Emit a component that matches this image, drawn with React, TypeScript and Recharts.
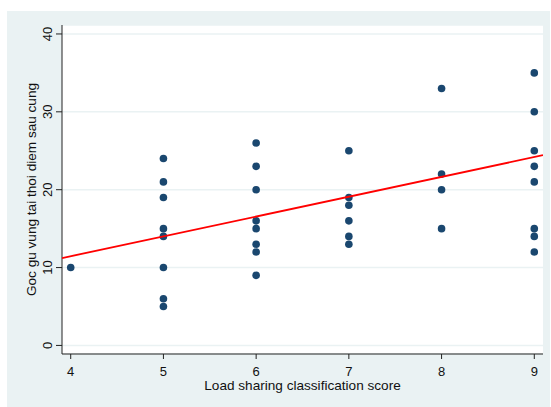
import React from "react";
import {
  ScatterChart,
  Scatter,
  XAxis,
  YAxis,
  CartesianGrid,
  Label,
} from "recharts";

// load sharing score (x) and angle at final follow-up (y)
const score = [
  4,
  5, 5, 5, 5, 5, 5, 5, 5,
  6, 6, 6, 6, 6, 6, 6, 6,
  7, 7, 7, 7, 7, 7,
  8, 8, 8, 8,
  9, 9, 9, 9, 9, 9, 9, 9,
];
const angle = [
  10,
  24, 21, 19, 15, 14, 10, 6, 5,
  26, 23, 20, 16, 15, 13, 12, 9,
  25, 19, 18, 16, 14, 13,
  33, 22, 20, 15,
  35, 30, 25, 23, 21, 15, 14, 12,
];

// fitted values at the ends of the x range
const fitScore = [3.906, 9.094];
const fitAngle = [11.22, 24.43];

const xTicks = [4, 5, 6, 7, 8, 9];
const yTicks = [0, 10, 20, 30, 40];

const points = score.map((s, i) => ({ x: s, y: angle[i] }));
const fitLine = fitScore.map((s, i) => ({ x: s, y: fitAngle[i] }));

const FONT = "'Liberation Sans', Arial, sans-serif";
const BG = "#EAF2F3";

const Dot = (props: any) => (
  <circle cx={props.cx} cy={props.cy} r={3.8} fill="#1A476F" />
);

const XTick = (props: any) => (
  <text
    x={props.x}
    y={props.y + 10.5}
    textAnchor="middle"
    dominantBaseline="central"
    fontFamily={FONT}
    fontSize={13}
    fill="#111"
  >
    {props.payload.value}
  </text>
);

const YTick = (props: any) => (
  <text
    x={props.x - 6}
    y={props.y}
    textAnchor="middle"
    dominantBaseline="central"
    fontFamily={FONT}
    fontSize={13}
    fill="#111"
    transform={`rotate(-90, ${props.x - 6}, ${props.y})`}
  >
    {props.payload.value}
  </text>
);

const App: React.FC = () => {
  return (
    <div
      style={{
        position: "absolute",
        left: 0,
        top: 0,
        width: 551,
        height: 407,
        background: "#fff",
      }}
    >
      <div
        style={{
          position: "absolute",
          left: 7,
          top: 11,
          width: 543,
          height: 396,
          background: BG,
        }}
      />
      <div style={{ position: "absolute", left: 0, top: 0 }}>
        <ScatterChart
          width={551}
          height={407}
          margin={{ top: 25, right: 8, left: 32, bottom: 23 }}
        >
          <CartesianGrid
            vertical={false}
            stroke={BG}
            strokeWidth={1.5}
            fill="#fff"
          />
          <XAxis
            type="number"
            dataKey="x"
            domain={[3.906, 9.094]}
            ticks={xTicks}
            allowDataOverflow
            height={30}
            axisLine={{ stroke: "#222" }}
            tickLine={{ stroke: "#222" }}
            tickSize={5}
            tick={<XTick />}
          >
            <Label
              value="Load sharing classification score"
              content={(p: any) => (
                <text
                  x={p.viewBox.x + p.viewBox.width / 2}
                  y={385.8}
                  textAnchor="middle"
                  dominantBaseline="central"
                  fontFamily={FONT}
                  fontSize={13.6}
                  fill="#111"
                >
                  Load sharing classification score
                </text>
              )}
            />
          </XAxis>
          <YAxis
            type="number"
            dataKey="y"
            domain={[-1.1, 41.15]}
            ticks={yTicks}
            allowDataOverflow
            width={30}
            axisLine={{ stroke: "#222" }}
            tickLine={{ stroke: "#222" }}
            tickSize={6}
            tick={<YTick />}
          >
            <Label
              value="Goc gu vung tai thoi diem sau cung"
              content={(p: any) => {
                const cx = 31.5;
                const cy = p.viewBox.y + p.viewBox.height / 2;
                return (
                  <text
                    x={cx}
                    y={cy}
                    textAnchor="middle"
                    dominantBaseline="central"
                    fontFamily={FONT}
                    fontSize={13.6}
                    fill="#111"
                    transform={`rotate(-90, ${cx}, ${cy})`}
                  >
                    Goc gu vung tai thoi diem sau cung
                  </text>
                );
              }}
            />
          </YAxis>
          <Scatter
            data={points}
            shape={<Dot />}
            isAnimationActive={false}
          />
          <Scatter
            data={fitLine}
            line={{ stroke: "#FF0000", strokeWidth: 1.8 }}
            shape={() => <g />}
            isAnimationActive={false}
          />
        </ScatterChart>
      </div>
    </div>
  );
};

export default App;
